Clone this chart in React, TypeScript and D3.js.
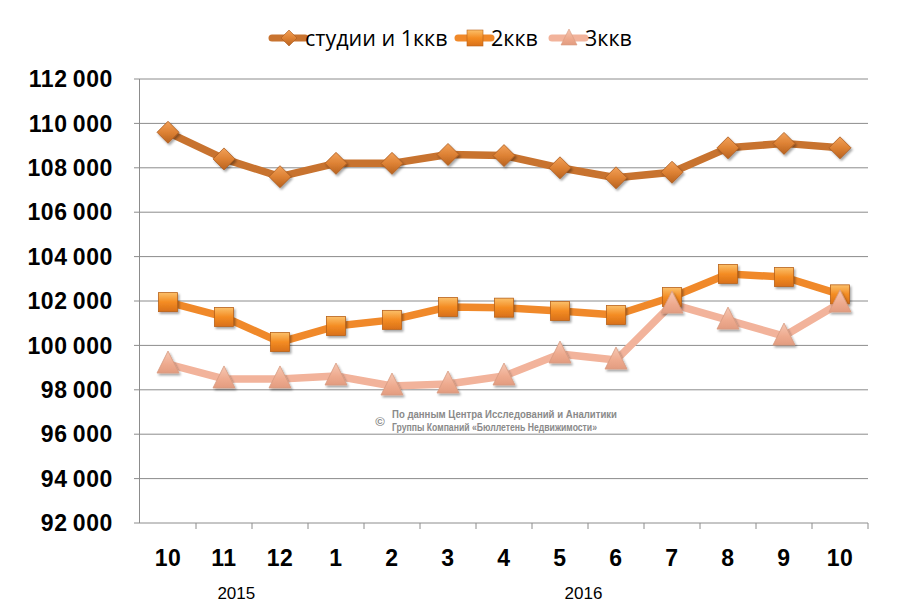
import React from "react";
import * as d3 from "d3";

const months = ["10", "11", "12", "1", "2", "3", "4", "5", "6", "7", "8", "9", "10"];
const studios = [109600, 108400, 107600, 108200, 108200, 108600, 108550, 108000, 107550, 107800, 108900, 109100, 108900];
const twoRoom = [101950, 101280, 100150, 100870, 101150, 101730, 101700, 101550, 101370, 102180, 103220, 103080, 102300];
const threeRoom = [99160, 98490, 98490, 98620, 98170, 98260, 98620, 99610, 99340, 101860, 101140, 100420, 101910];
const yTicks = [92000, 94000, 96000, 98000, 100000, 102000, 104000, 106000, 108000, 110000, 112000];
const years = [{ label: "2015", pos: 1.22 }, { label: "2016", pos: 7.42 }];
const seriesNames = ["студии и 1ккв", "2ккв", "3ккв"];

const W = 900, H = 611;
const left = 140, right = 868, top = 79, bottom = 523;

const fmt = (v: number) => {
  const s = String(v);
  return s.slice(0, s.length - 3) + "\u2009" + s.slice(s.length - 3);
};

export default function App() {
  const idx = months.map((_, i) => i);
  const x = d3.scaleBand<number>().domain(idx).range([left, right]);
  const cx = (i: number) => (x(i) as number) + x.bandwidth() / 2;
  const y = d3.scaleLinear().domain([92000, 112000]).range([bottom, top]);
  const line = d3.line<number>().x((_, i) => cx(i)).y((d) => y(d));

  const colors = ["#C8732F", "#F0892A", "#F2B39B"];
  const series = [studios, twoRoom, threeRoom];

  const marker = (k: number, px: number, py: number, key: string) => {
    if (k === 0) {
      const s = 11;
      return (
        <path key={key} d={`M${px},${py - s}L${px + s},${py}L${px},${py + s}L${px - s},${py}Z`}
          fill="url(#g0)" stroke="#A95A1E" strokeWidth={0.8} filter="url(#sh)" />
      );
    }
    if (k === 1) {
      const s = 9.5;
      return (
        <rect key={key} x={px - s} y={py - s} width={2 * s} height={2 * s}
          fill="url(#g1)" stroke="#B8621A" strokeWidth={0.8} filter="url(#sh)" />
      );
    }
    const s = 11;
    return (
      <path key={key} d={`M${px},${py - s - 2}L${px + s},${py + s - 2}L${px - s},${py + s - 2}Z`}
        fill="url(#g2)" stroke="#D79A80" strokeWidth={0.8} filter="url(#sh)" />
    );
  };

  const legendItems = [
    { k: 0, lx: 272, tx: 305 },
    { k: 1, lx: 458, tx: 491 },
    { k: 2, lx: 552, tx: 585 },
  ];

  return (
    <svg width={W} height={H} style={{ display: "block", position: "absolute", left: 0, top: 0 }}>
      <defs>
        <linearGradient id="g0" x1="0" y1="0" x2="0" y2="1">
          <stop offset="0" stopColor="#F2A15A" />
          <stop offset="0.5" stopColor="#DE8234" />
          <stop offset="1" stopColor="#B8621F" />
        </linearGradient>
        <linearGradient id="g1" x1="0" y1="0" x2="0" y2="1">
          <stop offset="0" stopColor="#FBC06A" />
          <stop offset="0.5" stopColor="#F48C22" />
          <stop offset="1" stopColor="#D8701A" />
        </linearGradient>
        <linearGradient id="g2" x1="0" y1="0" x2="0" y2="1">
          <stop offset="0" stopColor="#F6C8B4" />
          <stop offset="0.6" stopColor="#EEAA8E" />
          <stop offset="1" stopColor="#E29C80" />
        </linearGradient>
        <filter id="sh" x="-50%" y="-50%" width="200%" height="200%">
          <feDropShadow dx="1.5" dy="2" stdDeviation="1.2" floodColor="#000" floodOpacity="0.35" />
        </filter>
      </defs>
      <rect width={W} height={H} fill="#fff" />

      {/* grid */}
      {yTicks.map((t) => (
        <line key={"g" + t} x1={left - 6} x2={right} y1={y(t)} y2={y(t)} stroke="#8c8c8c" strokeWidth={1} />
      ))}
      <line x1={left - 0.5} x2={left - 0.5} y1={top} y2={bottom} stroke="#8c8c8c" />
      {idx.slice(1).map((i) => (
        <line key={"xt" + i} x1={x(i) as number} x2={x(i) as number} y1={bottom} y2={bottom + 6} stroke="#8c8c8c" />
      ))}
      <line x1={right} x2={right} y1={bottom} y2={bottom + 6} stroke="#8c8c8c" />

      {/* y labels */}
      {yTicks.map((t) => (
        <text key={"yl" + t} x={113} y={y(t)} dy="0.36em" textAnchor="end" letterSpacing={0.6}
          fontFamily="'Liberation Sans', Arial, sans-serif" fontWeight="bold" fontSize={23} fill="#000">
          {fmt(t)}
        </text>
      ))}

      {/* x labels */}
      {months.map((m, i) => (
        <text key={"xl" + i} x={cx(i)} y={558} dy="0.36em" textAnchor="middle" letterSpacing={0.5}
          fontFamily="'Liberation Sans', Arial, sans-serif" fontWeight="bold" fontSize={23} fill="#000">
          {m}
        </text>
      ))}
      {years.map((yr) => (
        <text key={yr.label} x={cx(0) + yr.pos * x.step()} y={593} dy="0.36em" textAnchor="middle"
          fontFamily="'Liberation Sans', Arial, sans-serif" fontSize={17} fill="#000">
          {yr.label}
        </text>
      ))}

      {/* watermark */}
      <g fontFamily="'Liberation Sans Narrow', 'Liberation Sans', Arial, sans-serif" fill="#8a8a8a" fontWeight="bold">
        <text x={380} y={421} dy="0.36em" textAnchor="middle" fontSize={13}>©</text>
        <text x={392} y={414} dy="0.36em" fontSize={10} textLength={225} lengthAdjust="spacingAndGlyphs">По данным Центра Исследований и Аналитики</text>
        <text x={392} y={427} dy="0.36em" fontSize={10} textLength={205} lengthAdjust="spacingAndGlyphs">Группы Компаний «Бюллетень Недвижимости»</text>
      </g>

      {/* lines */}
      {series.map((s, k) => (
        <path key={"l" + k} d={line(s) as string} fill="none" stroke={colors[k]} strokeWidth={7.5} strokeLinejoin="round" />
      ))}
      {series.map((s, k) => (
        <g key={"m" + k}>{s.map((v, i) => marker(k, cx(i), y(v), `${k}-${i}`))}</g>
      ))}

      {/* legend */}
      {legendItems.map((it) => (
        <g key={"lg" + it.k}>
          <line x1={it.lx} x2={it.lx + 33} y1={38} y2={38} stroke={colors[it.k]} strokeWidth={7} strokeLinecap="round" />
          {it.k === 0 ? (
            <path d={`M${it.lx + 17},${30}L${it.lx + 25},${38}L${it.lx + 17},${46}L${it.lx + 9},${38}Z`} fill="url(#g0)" stroke="#A95A1E" strokeWidth={0.6} />
          ) : it.k === 1 ? (
            <rect x={it.lx + 9} y={30} width={16} height={16} fill="url(#g1)" stroke="#B8621A" strokeWidth={0.6} />
          ) : (
            <path d={`M${it.lx + 17},${29}L${it.lx + 25},${45}L${it.lx + 9},${45}Z`} fill="url(#g2)" stroke="#D79A80" strokeWidth={0.6} />
          )}
          <text x={it.tx} y={38} dy="0.36em" fontFamily="'Open Sans', 'Liberation Sans', sans-serif" fontSize={21.5} fill="#000">
            {seriesNames[it.k]}
          </text>
        </g>
      ))}
    </svg>
  );
}
